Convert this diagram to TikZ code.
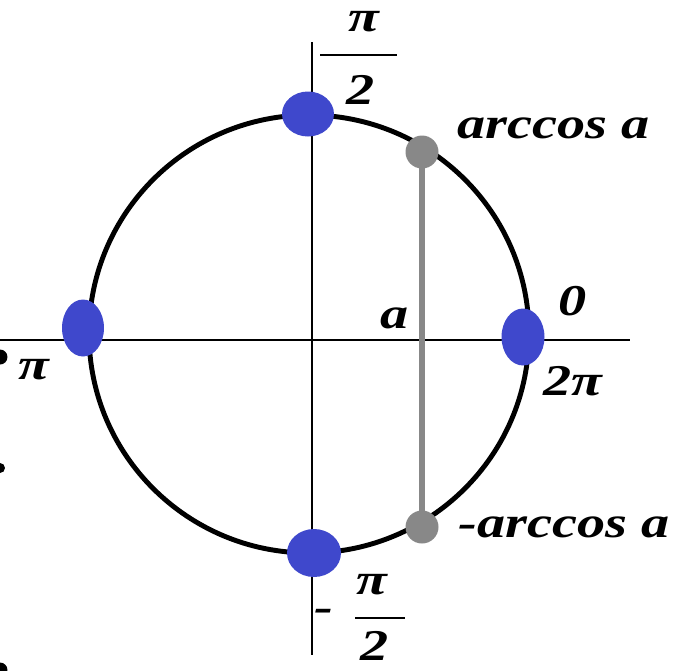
\documentclass[tikz,border=0pt]{standalone}
\usepackage{fontspec}
\setmainfont{Liberation Serif}
\usepackage{tikz}
\usetikzlibrary{shapes.geometric, positioning}

\definecolor{xanh}{RGB}{63,72,204}
\definecolor{xam}{RGB}{136,136,136}

\tikzset{
  nhan/.style={font=\fontsize{25}{27}\selectfont\bfseries\itshape, inner sep=0pt, xscale=1.28},
  chamxanh/.style={ellipse, fill=xanh, inner sep=0pt},
  chamxam/.style={circle, fill=xam, minimum size=0.66cm, inner sep=0pt},
}

\begin{document}
\begin{tikzpicture}[x=0.02cm, y=-0.02cm]
    \useasboundingbox (0,0) rectangle (679,670);
    % Hệ trục tọa độ
    \draw[line width=0.9pt] (0,340) -- (630,340);
    \draw[line width=0.9pt] (312,42) -- (312,655);
    % Đường tròn lượng giác
    \draw[line width=2.8pt] (309,334) circle [x radius=4.4cm, y radius=4.38cm];
    % Dây cung x = a
    \coordinate (tren) at (422,152);
    \coordinate (duoi) at (422,527);
    \draw[xam, line width=3.4pt] (tren) -- (duoi);
    \node[chamxam] (Atren) at (tren) {};
    \node[chamxam] (Aduoi) at (duoi) {};
    % Các điểm đặc biệt
    \node[chamxanh, minimum width=0.86cm, minimum height=1.14cm] (P0) at (523,337) {};
    \node[chamxanh, minimum width=0.84cm, minimum height=1.14cm] (Ppi) at (83,328) {};
    \node[chamxanh, minimum width=1.04cm, minimum height=0.9cm] (Ptren) at (308,114) {};
    \node[chamxanh, minimum width=1.08cm, minimum height=0.96cm] (Pduoi) at (314,553) {};
    % Nhãn
    \node[nhan, anchor=west] (lArc) at (457,128) {arccos a};
    \node[nhan, anchor=west] (lArcAm) at (458,527) {-arccos a};
    \node[nhan] (l0) at (573,301) {0};
    \node[nhan] (l2pi) at (573,381) {2π};
    \node[nhan] (la) at (395,318) {a};
    \node[nhan] (lpi) at (34,370) {π};
    % pi/2
    \node[nhan] (tsTren) at (364,22) {π};
    \node[nhan] (msTren) at (361,90) {2};
    \draw[line width=1.6pt] (320,55) -- (397,55);
    % -pi/2
    \node[nhan] (tsDuoi) at (372,585) {π};
    \node[nhan] (msDuoi) at (375,646) {2};
    \node[nhan] (dauTru) at (324,615) {-};
    \draw[line width=1.6pt] (355,618) -- (405,618);
    % Chấm ở mép trái
    \fill (0,357) circle [radius=0.15cm];
    \fill (0,468) circle [radius=0.1cm];
    \fill (0,670) circle [radius=0.15cm];
\end{tikzpicture}
\end{document}
